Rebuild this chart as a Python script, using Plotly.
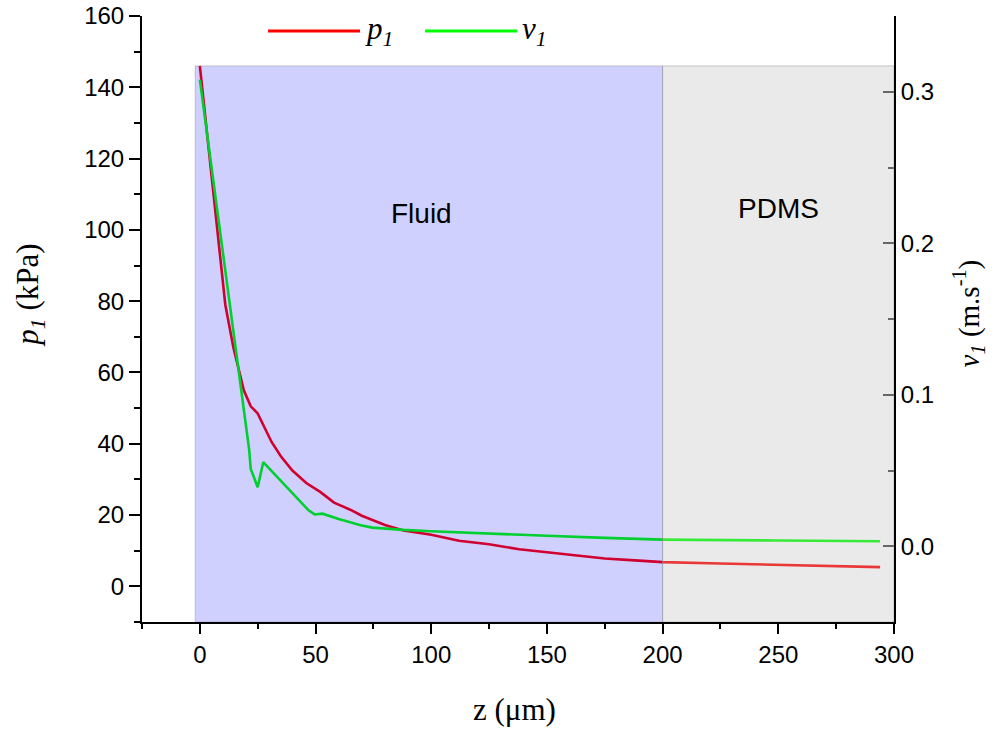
import plotly.graph_objects as go

# Pressure amplitude p1 (kPa) along z (µm)
z_p = [0, 4, 8.5, 11, 14.5, 17, 19, 22, 25, 28, 31, 35, 40, 46, 52, 58, 65, 70,
       80, 88, 100, 112, 125, 138, 150, 163, 175, 188, 200, 225, 250, 275, 294]
p1 = [146, 121, 93, 79, 67, 60.5, 55, 50.5, 48.5, 44.5, 40.5, 36.5, 32.5, 29,
      26.5, 23.5, 21.5, 19.8, 17.2, 15.7, 14.5, 12.8, 11.8, 10.4, 9.5, 8.5,
      7.8, 7.3, 6.8, 6.4, 6.1, 5.8, 5.4]

# Velocity amplitude v1 (m/s) along z (µm)
z_v = [0, 5, 10, 13, 16.3, 19, 21.3, 22, 25, 27.4, 32, 37.8, 43, 47, 49.6, 53,
       60, 69.5, 74.5, 82.4, 88, 100, 125, 150, 175, 200, 250, 294]
v1 = [0.308, 0.25, 0.193, 0.158, 0.120, 0.089, 0.064, 0.051, 0.039, 0.0555,
      0.048, 0.039, 0.030, 0.0237, 0.021, 0.0215, 0.018, 0.0138, 0.0123,
      0.0114, 0.0108, 0.0099, 0.0082, 0.0069, 0.0055, 0.0044, 0.0038, 0.0033]

# Material regions along z
region_names = ["Fluid", "PDMS"]
region_start = [-2, 200]
region_end = [200, 300]
region_top = 146
region_fill = ["rgba(0,0,255,0.185)", "rgba(185,185,185,0.30)"]
region_label_x = [96, 250]
region_label_y = [104.5, 106]

x_ticks = [0, 50, 100, 150, 200, 250, 300]
y_ticks = [0, 20, 40, 60, 80, 100, 120, 140, 160]
y2_ticks = [0.0, 0.1, 0.2, 0.3]

RED = "#ff0000"
GREEN = "#00ff00"
SERIF = "Liberation Serif"
SANS = "Liberation Sans"

fig = go.Figure()
fig.add_trace(go.Scatter(x=z_p, y=p1, mode="lines", name="p1",
                         line=dict(color=RED, width=2.6), yaxis="y",
                         showlegend=False))
fig.add_trace(go.Scatter(x=z_v, y=v1, mode="lines", name="v1",
                         line=dict(color=GREEN, width=2.6), yaxis="y2",
                         showlegend=False))

shapes = []
annotations = []
for name, x0, x1, fill, lx, ly in zip(region_names, region_start, region_end,
                                      region_fill, region_label_x, region_label_y):
    shapes.append(dict(type="rect", xref="x", yref="y", x0=x0, x1=x1,
                       y0=-10, y1=region_top, fillcolor=fill, layer="above",
                       line=dict(color="rgba(140,140,150,0.45)", width=1)))
    annotations.append(dict(x=lx, y=ly, xref="x", yref="y", text=name,
                            showarrow=False, xanchor="center", yanchor="middle",
                            font=dict(family=SANS, size=28, color="black")))

# Legend drawn as line swatches with serif labels
legend_items = [("<i>p</i><sub><i>1</i></sub>", RED, 0.1676, 0.2899),
                ("<i>v</i><sub><i>1</i></sub>", GREEN, 0.3763, 0.4987)]
for label, color, lx0, lx1 in legend_items:
    shapes.append(dict(type="line", xref="paper", yref="paper", x0=lx0, x1=lx1,
                       y0=0.9752, y1=0.9752, line=dict(color=color, width=3)))
    annotations.append(dict(x=lx1 + 0.004, y=0.9752, xref="paper", yref="paper",
                            text=label, showarrow=False, xanchor="left",
                            yanchor="middle",
                            font=dict(family=SERIF, size=31, color="black")))

# Axis titles
annotations.append(dict(x=-0.149, y=0.54, xref="paper", yref="paper",
                        text="<i>p</i><sub><i>1</i></sub> (kPa)", textangle=-90,
                        showarrow=False, xanchor="center", yanchor="middle",
                        font=dict(family=SERIF, size=31, color="black")))
annotations.append(dict(x=1.099, y=0.51, xref="paper", yref="paper",
                        text="<i>v</i><sub><i>1</i></sub> (m.s<sup>-1</sup>)",
                        textangle=-90, showarrow=False, xanchor="center",
                        yanchor="middle",
                        font=dict(family=SERIF, size=29, color="black")))
annotations.append(dict(x=0.496, y=-0.145, xref="paper", yref="paper",
                        text="z (μm)", showarrow=False, xanchor="center",
                        yanchor="middle",
                        font=dict(family=SERIF, size=31, color="black")))

fig.update_layout(
    width=994, height=730,
    margin=dict(l=142, r=100, t=16, b=108),
    paper_bgcolor="white", plot_bgcolor="white",
    shapes=shapes, annotations=annotations,
    xaxis=dict(range=[-25, 300], tickvals=x_ticks, ticks="outside",
               ticklen=10, tickwidth=2, tickcolor="black", automargin=False,
               minor=dict(dtick=25, tick0=0, ticks="outside", ticklen=5,
                          tickwidth=2, tickcolor="black"),
               showline=True, linecolor="black", linewidth=2,
               showgrid=False, zeroline=False,
               tickfont=dict(family=SANS, size=24, color="black")),
    yaxis=dict(range=[-10, 160], tickvals=y_ticks, ticks="outside",
               ticklen=11, tickwidth=2, tickcolor="black", automargin=False,
               minor=dict(dtick=10, tick0=0, ticks="outside", ticklen=6,
                          tickwidth=2, tickcolor="black"),
               showline=True, linecolor="black", linewidth=2,
               showgrid=False, zeroline=False,
               tickfont=dict(family=SANS, size=24, color="black")),
    yaxis2=dict(range=[-0.05, 0.35], tickvals=y2_ticks, tickformat=".1f",
                overlaying="y", side="right", ticks="inside", automargin=False,
                ticklen=11, tickwidth=2, tickcolor="#444",
                minor=dict(dtick=0.05, tick0=0, ticks="inside", ticklen=6,
                           tickwidth=2, tickcolor="#444"),
                showline=True, linecolor="black", linewidth=2,
                showgrid=False, zeroline=False,
                tickfont=dict(family=SANS, size=24, color="black")),
)

fig.write_html("out.html")
